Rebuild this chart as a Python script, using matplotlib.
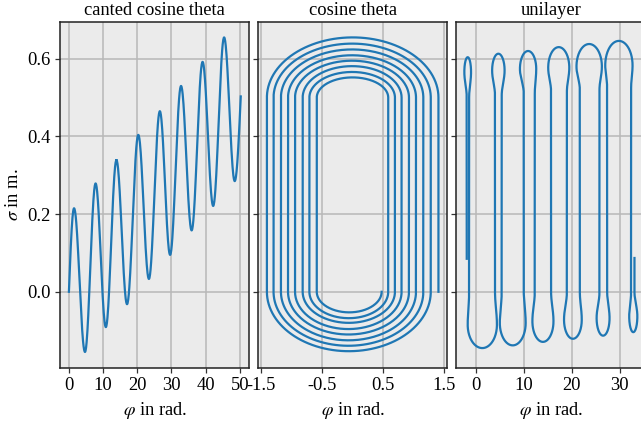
import numpy as np
import matplotlib
matplotlib.use('Agg')
from matplotlib import pyplot as plt

plt.rcParams['font.family'] = 'serif'
plt.rcParams['font.serif'] = ['Liberation Serif', 'DejaVu Serif']
plt.rcParams['mathtext.fontset'] = 'stix'
plt.rcParams['font.size'] = 13.3
plt.rcParams['axes.unicode_minus'] = False

# canted cosine theta: extrema of the curve (phi in rad., sigma in m.)
cct_phi = [0.0, 1.5, 4.7, 7.8, 10.8, 13.9, 17.0, 20.3, 23.4, 26.6, 29.6,
           32.8, 35.9, 39.1, 42.2, 45.4, 48.5, 50.27]
cct_sigma = [0.0, 0.215, -0.155, 0.279, -0.091, 0.339, -0.032, 0.404, 0.033,
             0.465, 0.095, 0.530, 0.158, 0.592, 0.221, 0.655, 0.285, 0.503]

# cosine theta: turns from inner to outer
ct_left = [-0.589, -0.710, -0.820, -0.945, -1.060, -1.176, -1.297, -1.406]
ct_right = [0.474, 0.582, 0.692, 0.801, 0.922, 1.037, 1.157, 1.279, 1.405]
ct_top = [0.552, 0.566, 0.581, 0.595, 0.609, 0.624, 0.639, 0.655]
ct_bottom = [-0.053, -0.068, -0.080, -0.096, -0.110, -0.125, -0.139, -0.153]
ct_straight = [0.0, 0.5]

# unilayer: vertical strands and the loops joining them
ul_strands = [-1.9, -1.4, 4.0, 5.4, 10.0, 12.3, 15.7, 19.0, 21.7, 25.8,
              27.4, 32.4, 33.1]
ul_ends = [0.085, 0.087]
ul_top_lo = [-2.4, 3.4, 9.2, 15.1, 21.0, 27.0]
ul_top_hi = [-1.0, 6.0, 12.6, 19.5, 26.3, 32.7]
ul_top = [0.604, 0.613, 0.620, 0.630, 0.638, 0.646]
ul_top_wide = [0.566, 0.570, 0.574, 0.577, 0.580, 0.583]
ul_top_neck = [0.50, 0.505, 0.51, 0.515, 0.52, 0.525]
ul_bot_lo = [-1.7, 5.0, 11.8, 18.4, 25.2, 32.0]
ul_bot_hi = [4.4, 10.4, 16.2, 22.1, 27.9, 33.7]
ul_bot = [-0.145, -0.138, -0.129, -0.121, -0.113, -0.104]
ul_bot_wide = [-0.085, -0.080, -0.076, -0.072, -0.068, -0.063]
ul_bot_neck = [0.0, 0.0, 0.0, 0.0, 0.0, 0.0]

titles = ['canted cosine theta', 'cosine theta', 'unilayer']
color = '#1f77b4'


def wave(xn, yn, n=40):
    # smooth half waves between the extrema
    xs, ys = [], []
    last = len(xn) - 2
    s = np.linspace(0, 1, n)
    for i in range(len(xn) - 1):
        if i == 0:
            e = np.sin(np.pi / 2 * s)
        elif i == last:
            e = 1 - np.cos(np.pi / 2 * s)
        else:
            e = (1 - np.cos(np.pi * s)) / 2
        xs.append(xn[i] + (xn[i + 1] - xn[i]) * s)
        ys.append(yn[i] + (yn[i + 1] - yn[i]) * e)
    return np.concatenate(xs), np.concatenate(ys)


def turn(xa, xb, lo, hi, neck, wide, ext, n=60):
    s = np.linspace(0, 1, n)
    ease = (1 - np.cos(np.pi * s)) / 2
    x1 = xa + (lo - xa) * ease
    y1 = neck + (wide - neck) * s
    th = np.linspace(np.pi, 0, 2 * n)
    x2 = (lo + hi) / 2 + (hi - lo) / 2 * np.cos(th)
    y2 = wide + (ext - wide) * np.sin(th)
    x3 = hi + (xb - hi) * ease
    y3 = wide + (neck - wide) * s
    return np.r_[x1, x2, x3], np.r_[y1, y2, y3]


# cosine theta spiral
ctx, cty = [], []
for k in range(len(ct_left)):
    r, l = ct_right[k], ct_left[k]
    th = np.linspace(0, -np.pi, 120)
    ctx.append((r + l) / 2 + (r - l) / 2 * np.cos(th))
    cty.append(ct_straight[0] + (ct_straight[0] - ct_bottom[k]) * np.sin(th))
    r2 = ct_right[k + 1]
    th = np.linspace(np.pi, 0, 120)
    ctx.append((r2 + l) / 2 + (r2 - l) / 2 * np.cos(th))
    cty.append(ct_straight[1] + (ct_top[k] - ct_straight[1]) * np.sin(th))
ctx.append([ct_right[-1]])
cty.append([ct_straight[0]])
ctx, cty = np.concatenate(ctx), np.concatenate(cty)

# unilayer meander
ulx, uly = [[ul_strands[0]]], [[ul_ends[0]]]
for i in range(len(ul_top)):
    x, y = turn(ul_strands[2 * i], ul_strands[2 * i + 1], ul_top_lo[i],
                ul_top_hi[i], ul_top_neck[i], ul_top_wide[i], ul_top[i])
    ulx.append(x)
    uly.append(y)
    x, y = turn(ul_strands[2 * i + 1], ul_strands[2 * i + 2], ul_bot_lo[i],
                ul_bot_hi[i], ul_bot_neck[i], ul_bot_wide[i], ul_bot[i])
    ulx.append(x)
    uly.append(y)
ulx.append([ul_strands[-1]])
uly.append([ul_ends[1]])
ulx, uly = np.concatenate(ulx), np.concatenate(uly)

cctx, ccty = wave(cct_phi, cct_sigma)

fig = plt.figure(figsize=(6.41, 4.21), dpi=100)
lefts = [0.0941, 0.403, 0.7109]
widths = [0.2949, 0.2944, 0.2969]
axes = []
for i in range(3):
    if i == 0:
        ax = fig.add_axes([lefts[i], 0.1266, widths[i], 0.8219])
    else:
        ax = fig.add_axes([lefts[i], 0.1266, widths[i], 0.8219],
                          sharey=axes[0])
        ax.tick_params(labelleft=False)
    ax.set_facecolor('#ebebeb')
    ax.grid(True, color='#b8b8b8', linewidth=1.1)
    ax.set_axisbelow(True)
    for sp in ax.spines.values():
        sp.set_color('#222222')
        sp.set_linewidth(1.1)
    ax.tick_params(direction='out', length=3.5, width=0.9, color='#333333')
    ax.set_title(titles[i], fontsize=13.3, pad=5)
    ax.set_xlabel(r'$\varphi$ in rad.')
    axes.append(ax)

axes[0].plot(cctx, ccty, color=color, linewidth=1.6)
axes[1].plot(ctx, cty, color=color, linewidth=1.6)
axes[2].plot(ulx, uly, color=color, linewidth=1.6)

axes[0].set_ylabel(r'$\sigma$ in m.')
axes[0].set_yticks([0.0, 0.2, 0.4, 0.6])
axes[0].set_xticks([0, 10, 20, 30, 40, 50])
axes[1].set_xticks([-1.5, -0.5, 0.5, 1.5])
axes[2].set_xticks([0, 10, 20, 30])

plt.savefig('out.png', dpi=100)
